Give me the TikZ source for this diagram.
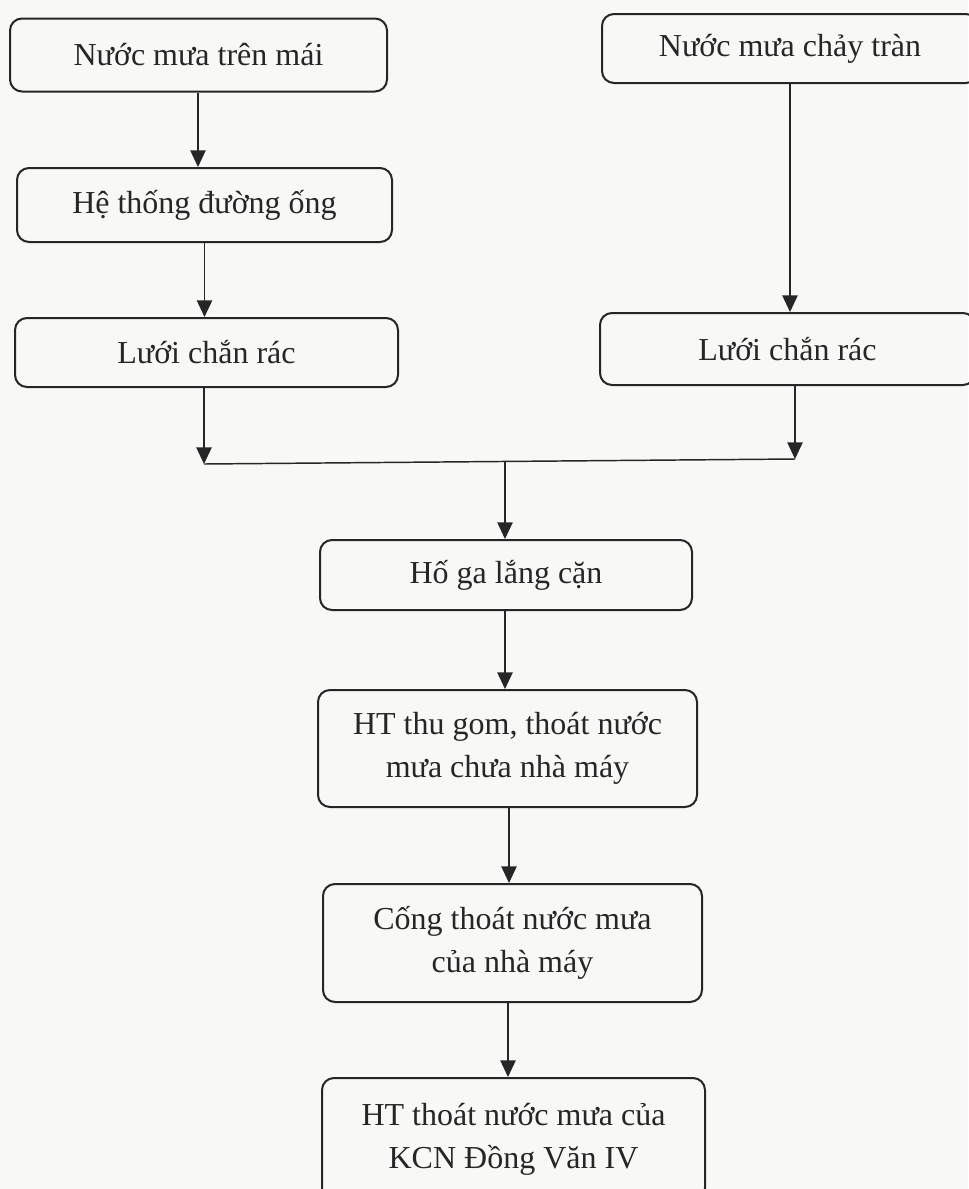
\documentclass[tikz,border=0pt]{standalone}
\usepackage{fontspec}
\setmainfont{Liberation Serif}
\usetikzlibrary{arrows.meta}
\definecolor{paper}{HTML}{F8F8F6}
\definecolor{ink}{HTML}{262626}
\tikzset{
  box/.style={draw=ink, line width=1.5pt, rounded corners=9pt, align=center,
    inner sep=0pt, text=ink, font=\fontsize{24}{32}\selectfont},
  arr/.style={draw=ink, line width=1.1pt, -{Triangle[width=11.5pt,length=12.5pt]}},
  ln/.style={draw=ink, line width=1.1pt}
}
\begin{document}
\begin{tikzpicture}[x=0.75pt,y=-0.75pt]
\fill[paper] (0,0) rectangle (968,1189);
\useasboundingbox (0,0) rectangle (968,1189);
\node[box, minimum width=377*0.75pt, minimum height=73*0.75pt] (b1) at (198.5,55) {Nước mưa trên mái};
\node[box, minimum width=375*0.75pt, minimum height=74*0.75pt] (b2) at (204.5,205) {Hệ thống đường ống};
\node[box, minimum width=383*0.75pt, minimum height=69*0.75pt] (b3) at (206.5,352.5) {Lưới chắn rác};
\node[box, minimum width=376*0.75pt, minimum height=69*0.75pt] (b4) at (790,48.5) {Nước mưa chảy tràn};
\node[box, minimum width=375*0.75pt, minimum height=72*0.75pt] (b5) at (787.5,349) {Lưới chắn rác};
\node[box, minimum width=372*0.75pt, minimum height=70*0.75pt] (b6) at (506,575) {Hố ga lắng cặn};
\node[box, minimum width=379*0.75pt, minimum height=117*0.75pt] (b7) at (507.5,748.5) {HT thu gom, thoát nước\\mưa chưa nhà máy};
\node[box, minimum width=379*0.75pt, minimum height=118*0.75pt] (b8) at (512.5,943) {Cống thoát nước mưa\\của nhà máy};
\node[box, minimum width=383*0.75pt, minimum height=122*0.75pt] (b9) at (513.5,1139) {HT thoát nước mưa của\\KCN Đồng Văn IV};
\coordinate (jL) at (204,464);
\coordinate (jR) at (795,459);
\coordinate (jM) at (505,462);
\draw[arr] (b1.south -| 198,0) -- (b2.north -| 198,0);
\draw[arr] (b2.south) -- (b3.north -| b2);
\draw[arr] (b4.south) -- (b5.north -| b4);
\draw[arr] (b3.south -| jL) -- (jL);
\draw[arr] (b5.south -| jR) -- (jR);
\draw[ln] (jL) -- (jR);
\draw[arr] (jM) -- (b6.north -| jM);
\draw[arr] (b6.south -| jM) -- (b7.north -| jM);
\draw[arr] (b7.south -| 509,0) -- (b8.north -| 509,0);
\draw[arr] (b8.south -| 508,0) -- (b9.north -| 508,0);
\end{tikzpicture}
\end{document}
